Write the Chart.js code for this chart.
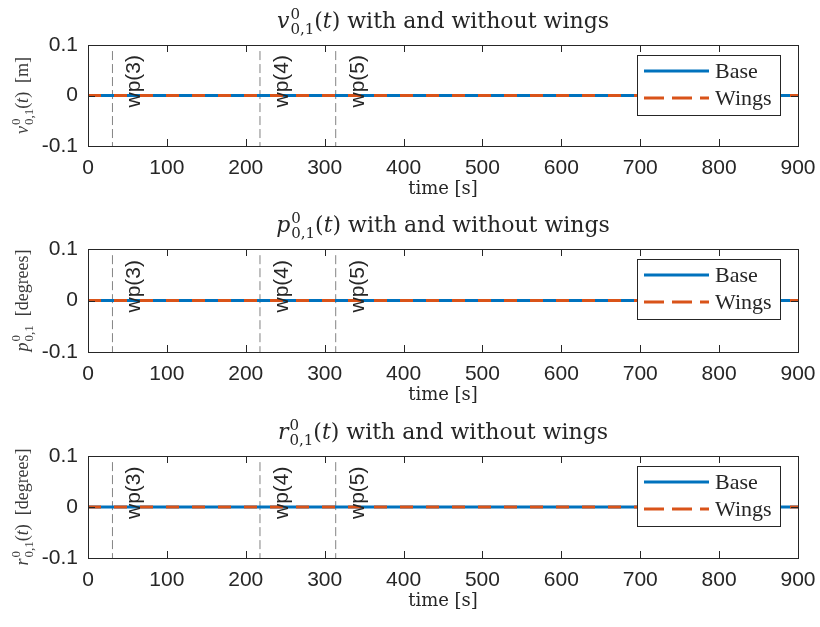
<!DOCTYPE html>
<html lang="en">
<head>
  <meta charset="UTF-8" />
  <title>Variables with and without wings</title>
  <script src="https://cdn.jsdelivr.net/npm/chart.js"></script>
  <style>
    body { margin: 0; background: #fff; }
    #wrap { width: 820px; height: 627px; }
    canvas { display: block; }
  </style>
</head>
<body>
<div id="wrap">
  <canvas id="c1" width="820" height="209"></canvas>
  <canvas id="c2" width="820" height="209"></canvas>
  <canvas id="c3" width="820" height="209"></canvas>
</div>
<script>
  // data (all three signals are flat zero in both cases)
  const timeS = [0, 900];
  const baseV = [0, 0];
  const wingsV = [0, 0];
  const baseP = [0, 0];
  const wingsP = [0, 0];
  const baseR = [0, 0];
  const wingsR = [0, 0];

  // waypoint markers
  const wpTimes = [31, 218, 314];
  const wpLabels = ['wp(3)', 'wp(4)', 'wp(5)'];

  const seriesNames = ['Base', 'Wings'];
  const xTicks = [0, 100, 200, 300, 400, 500, 600, 700, 800, 900];
  const yTicks = [-0.1, 0, 0.1];
  const xLabel = 'time [s]';

  // math text: {t, it} plain pieces, {sup, sub} stacked scripts
  const titles = [
    [{ t: 'v', it: true }, { sup: '0', sub: '0,1' }, { t: '(' }, { t: 't', it: true }, { t: ') with and without wings' }],
    [{ t: 'p', it: true }, { sup: '0', sub: '0,1' }, { t: '(' }, { t: 't', it: true }, { t: ') with and without wings' }],
    [{ t: 'r', it: true }, { sup: '0', sub: '0,1' }, { t: '(' }, { t: 't', it: true }, { t: ') with and without wings' }]
  ];
  const yLabels = [
    [{ t: 'v', it: true }, { sup: '0', sub: '0,1' }, { t: '(' }, { t: 't', it: true }, { t: ')  [m]' }],
    [{ t: 'p', it: true }, { sup: '0', sub: '0,1' }, { t: '  [degrees]' }],
    [{ t: 'r', it: true }, { sup: '0', sub: '0,1' }, { t: '(' }, { t: 't', it: true }, { t: ')  [degrees]' }]
  ];

  const BLUE = '#0072BD';
  const ORANGE = '#D95319';
  const INK = '#262626';
  const SANS = '"Liberation Sans", Arial, sans-serif';
  const SERIF = '"Liberation Serif", "Times New Roman", serif';
  const WIDE_SERIF = '"DejaVu Serif", serif';

  function segFont(seg, size, fam) {
    return (seg.it ? 'italic ' : '') + size + 'px ' + fam;
  }

  function richWidth(ctx, segs, size, fam) {
    let w = 0;
    segs.forEach(s => {
      if (s.sup !== undefined) {
        ctx.font = Math.round(size * 0.7) + 'px ' + fam;
        w += Math.max(ctx.measureText(s.sup).width, ctx.measureText(s.sub).width) + 1;
      } else {
        ctx.font = segFont(s, size, fam);
        w += ctx.measureText(s.t).width;
      }
    });
    return w;
  }

  // draws centered at x, baseline y
  function drawRich(ctx, segs, size, x, y, fam) {
    let cx = x - richWidth(ctx, segs, size, fam) / 2;
    ctx.textAlign = 'left';
    ctx.textBaseline = 'alphabetic';
    segs.forEach(s => {
      if (s.sup !== undefined) {
        const ss = Math.round(size * 0.7);
        ctx.font = ss + 'px ' + fam;
        ctx.fillText(s.sup, cx + 1, y - size * 0.42);
        ctx.fillText(s.sub, cx + 1, y + size * 0.27);
        cx += Math.max(ctx.measureText(s.sup).width, ctx.measureText(s.sub).width) + 1;
      } else {
        ctx.font = segFont(s, size, fam);
        ctx.fillText(s.t, cx, y);
        cx += ctx.measureText(s.t).width;
      }
    });
  }

  const decorPlugin = {
    id: 'decor',
    afterDatasetsDraw(chart, args, opts) {
      const ctx = chart.ctx;
      const a = chart.chartArea;
      const xs = chart.scales.x;
      const ys = chart.scales.y;
      ctx.save();

      // waypoint labels
      ctx.fillStyle = INK;
      ctx.font = '21px ' + SANS;
      wpTimes.forEach((t, i) => {
        ctx.save();
        ctx.translate(xs.getPixelForValue(t) + 22, ys.getPixelForValue(0) + 12);
        ctx.rotate(-Math.PI / 2);
        ctx.textAlign = 'left';
        ctx.textBaseline = 'middle';
        ctx.fillText(wpLabels[i], 0, 0);
        ctx.restore();
      });

      // box + inward ticks
      ctx.strokeStyle = INK;
      ctx.lineWidth = 1;
      ctx.beginPath();
      xs.ticks.forEach(tk => {
        const px = Math.round(xs.getPixelForValue(tk.value)) + 0.5;
        ctx.moveTo(px, a.bottom); ctx.lineTo(px, a.bottom - 7);
        ctx.moveTo(px, a.top); ctx.lineTo(px, a.top + 7);
      });
      ys.ticks.forEach(tk => {
        const py = Math.round(ys.getPixelForValue(tk.value)) + 0.5;
        ctx.moveTo(a.left, py); ctx.lineTo(a.left + 7, py);
        ctx.moveTo(a.right, py); ctx.lineTo(a.right - 7, py);
      });
      ctx.stroke();
      ctx.strokeRect(Math.round(a.left) + 0.5, Math.round(a.top) + 0.5,
        Math.round(a.right - a.left), Math.round(a.bottom - a.top));

      // legend
      const lx = a.right - 161, ly = a.top + 10, lw = 143, lh = 60;
      ctx.fillStyle = '#fff';
      ctx.fillRect(lx, ly, lw, lh);
      ctx.strokeStyle = INK;
      ctx.strokeRect(lx + 0.5, ly + 0.5, lw, lh);
      const rows = [
        { c: BLUE, dash: [], y: ly + 16 },
        { c: ORANGE, dash: [20, 8], y: ly + 43 }
      ];
      rows.forEach((r, i) => {
        ctx.strokeStyle = r.c;
        ctx.lineWidth = 3;
        ctx.setLineDash(r.dash);
        ctx.beginPath();
        ctx.moveTo(lx + 7, r.y); ctx.lineTo(lx + 72, r.y);
        ctx.stroke();
        ctx.setLineDash([]);
        ctx.fillStyle = INK;
        ctx.font = '22px ' + SERIF;
        ctx.textAlign = 'left';
        ctx.textBaseline = 'middle';
        ctx.fillText(seriesNames[i], lx + 78, r.y + 1);
      });

      // title, x label, y label
      const mid = (a.left + a.right) / 2;
      ctx.fillStyle = INK;
      drawRich(ctx, titles[opts.idx], 22, mid, a.top - 17, WIDE_SERIF);
      ctx.font = '18px ' + WIDE_SERIF;
      ctx.textAlign = 'center';
      ctx.textBaseline = 'alphabetic';
      ctx.fillText(xLabel, mid, a.bottom + 48);
      ctx.save();
      ctx.translate(28, (a.top + a.bottom) / 2);
      ctx.rotate(-Math.PI / 2);
      ctx.fillStyle = '#3a3a3a';
      drawRich(ctx, yLabels[opts.idx], 18, 0, 0, SERIF);
      ctx.restore();

      ctx.restore();
    }
  };

  const plotTops = [45, 40, 38];
  const plotBottoms = [146, 143, 140];
  const baseSeries = [baseV, baseP, baseR];
  const wingSeries = [wingsV, wingsP, wingsR];

  ['c1', 'c2', 'c3'].forEach((id, k) => {
    const toPts = arr => timeS.map((t, i) => ({ x: t, y: arr[i] }));
    const wpSets = wpTimes.map(t => ({
      label: 'wp',
      data: [{ x: t, y: 0.088 }, { x: t, y: -0.1 }],
      borderColor: 'rgba(90,90,90,0.75)',
      borderWidth: 1,
      borderDash: [9, 4],
      pointRadius: 0,
      order: 2
    }));
    new Chart(document.getElementById(id), {
      type: 'line',
      data: {
        datasets: [
          { label: seriesNames[1], data: toPts(wingSeries[k]), borderColor: ORANGE, borderWidth: 3,
            borderDash: [13, 13], pointRadius: 0, order: 0 },
          { label: seriesNames[0], data: toPts(baseSeries[k]), borderColor: BLUE, borderWidth: 3,
            pointRadius: 0, order: 1 },
          ...wpSets
        ]
      },
      options: {
        responsive: false,
        animation: false,
        devicePixelRatio: 1,
        layout: { padding: { left: 0, right: 22, top: plotTops[k], bottom: 0 } },
        plugins: {
          legend: { display: false },
          tooltip: { enabled: false },
          decor: { idx: k }
        },
        scales: {
          x: {
            type: 'linear', min: 0, max: 900,
            grid: { display: false, drawTicks: false },
            border: { display: false },
            afterBuildTicks: s => { s.ticks = xTicks.map(v => ({ value: v })); },
            afterFit: s => { s.height = 209 - plotBottoms[k]; s.paddingLeft = 0; s.paddingRight = 0; },
            ticks: { color: INK, font: { family: SANS, size: 21 }, padding: 10, maxRotation: 0 }
          },
          y: {
            type: 'linear', min: -0.1, max: 0.1,
            grid: { display: false, drawTicks: false },
            border: { display: false },
            afterBuildTicks: s => { s.ticks = yTicks.map(v => ({ value: v })); },
            afterFit: s => { s.width = 88; s.paddingTop = 0; s.paddingBottom = 0; },
            ticks: {
              color: INK, font: { family: SANS, size: 21 }, padding: 10,
              callback: v => { const r = Math.round(v * 10) / 10; return r === 0 ? '0' : String(r); }
            }
          }
        }
      },
      plugins: [decorPlugin]
    });
  });
</script>
</body>
</html>
